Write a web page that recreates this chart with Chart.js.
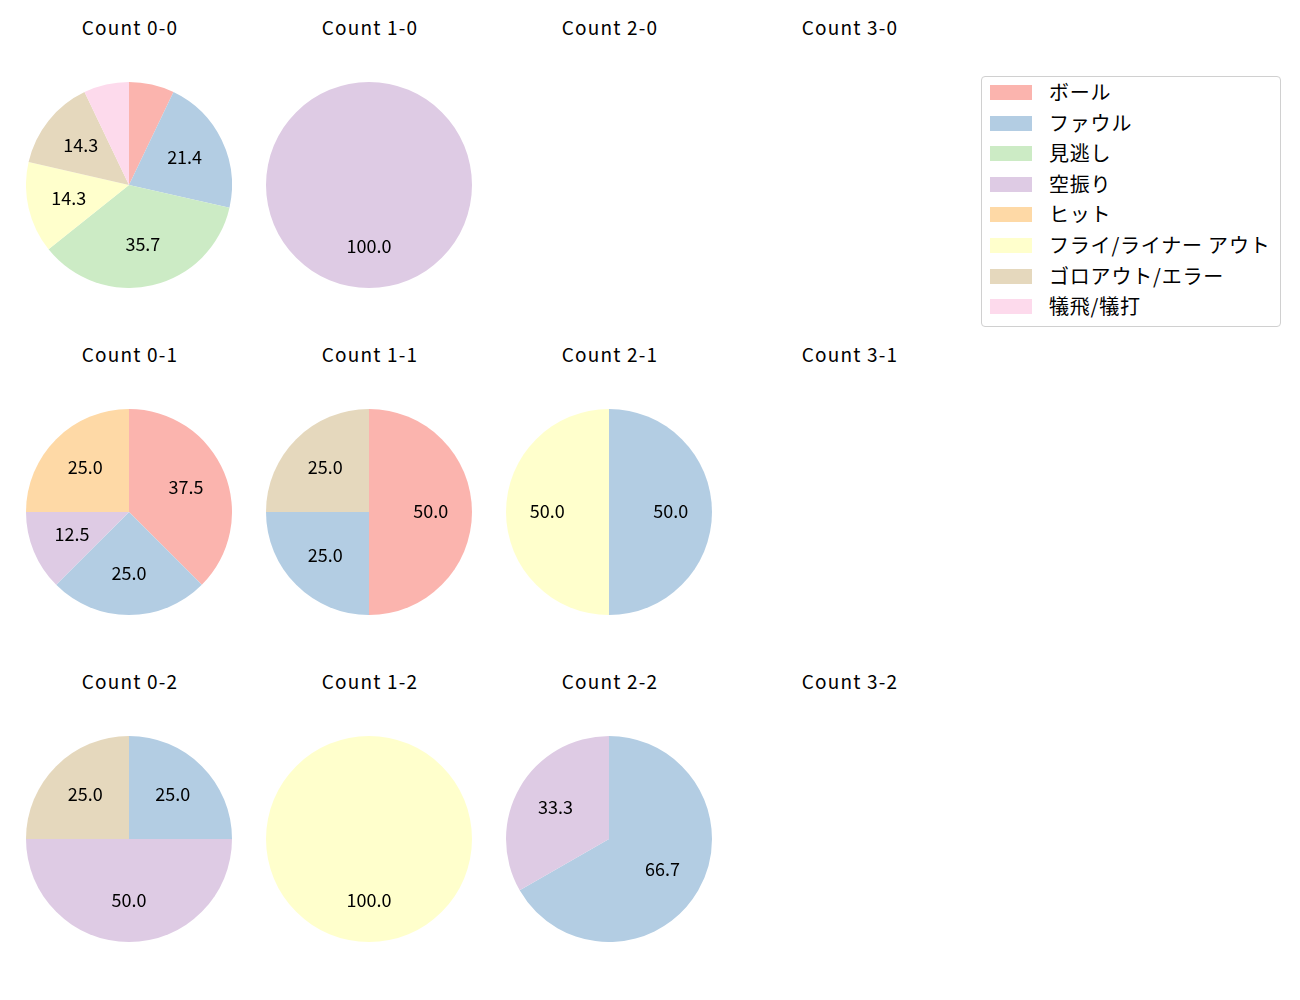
<!DOCTYPE html>
<html>
<head>
<meta charset="utf-8">
<script src="https://cdn.jsdelivr.net/npm/chart.js@4.4.1/dist/chart.umd.min.js"></script>
<style>
  body { margin: 0; background: #fff; font-family: "Noto Sans CJK JP", "Noto Sans", sans-serif; }
  #wrap { position: relative; width: 1300px; height: 1000px; }
  .titulo { position: absolute; width: 240px; text-align: center; font-size: 19px; line-height: 20px;
            letter-spacing: 1.2px; color: #000; }
  .pie { position: absolute; width: 206px; height: 206px; }
  #leyenda { position: absolute; left: 981px; top: 76px; width: 298px; height: 249px;
             border: 1px solid #d0d0d0; border-radius: 4px; }
  .item { position: absolute; left: 8px; height: 20px; font-size: 20px; line-height: 20px; color: #000; }
  .item span.caja { position: absolute; left: 0; top: 2px; width: 42px; height: 15px; }
  .item span.txt { position: absolute; left: 59px; top: -1px; white-space: nowrap; letter-spacing: 0.8px; }
</style>
</head>
<body>
<div id="wrap"></div>
<script>
const categorias = ['ボール', 'ファウル', '見逃し', '空振り', 'ヒット', 'フライ/ライナー アウト', 'ゴロアウト/エラー', '犠飛/犠打'];
const colores = ['#fbb4ae', '#b3cde3', '#ccebc5', '#decbe4', '#fed9a6', '#ffffcc', '#e5d8bd', '#fddaec'];

// porcentajes por cuenta, en el orden de categorias
const count00 = [7.1, 21.4, 35.7, 0, 0, 14.3, 14.3, 7.1];
const count10 = [0, 0, 0, 100, 0, 0, 0, 0];
const count20 = [0, 0, 0, 0, 0, 0, 0, 0];
const count30 = [0, 0, 0, 0, 0, 0, 0, 0];
const count01 = [37.5, 25, 0, 12.5, 25, 0, 0, 0];
const count11 = [50, 25, 0, 0, 0, 0, 25, 0];
const count21 = [0, 50, 0, 0, 0, 50, 0, 0];
const count31 = [0, 0, 0, 0, 0, 0, 0, 0];
const count02 = [0, 25, 0, 50, 0, 0, 25, 0];
const count12 = [0, 0, 0, 0, 0, 100, 0, 0];
const count22 = [0, 66.7, 0, 33.3, 0, 0, 0, 0];
const count32 = [0, 0, 0, 0, 0, 0, 0, 0];

const cuentas = [
    ['Count 0-0', count00], ['Count 1-0', count10], ['Count 2-0', count20], ['Count 3-0', count30],
    ['Count 0-1', count01], ['Count 1-1', count11], ['Count 2-1', count21], ['Count 3-1', count31],
    ['Count 0-2', count02], ['Count 1-2', count12], ['Count 2-2', count22], ['Count 3-2', count32]
];

// etiquetas de porcentaje dentro de cada porcion
const etiquetas = {
    id: 'etiquetas',
    afterDatasetsDraw(chart) {
        const ctx = chart.ctx;
        const meta = chart.getDatasetMeta(0);
        const valores = chart.data.datasets[0].data;
        ctx.save();
        ctx.font = '18px "Noto Sans CJK JP", "Noto Sans", sans-serif';
        ctx.fillStyle = '#000';
        ctx.textAlign = 'center';
        ctx.textBaseline = 'middle';
        meta.data.forEach((arco, i) => {
            if (valores[i] < 10) return;
            const p = arco.getProps(['x', 'y', 'startAngle', 'endAngle', 'outerRadius'], true);
            const medio = (p.startAngle + p.endAngle) / 2;
            const d = p.outerRadius * 0.6;
            ctx.fillText(valores[i].toFixed(1), p.x + Math.cos(medio) * d, p.y + Math.sin(medio) * d - 1);
        });
        ctx.restore();
    }
};

const wrap = document.getElementById('wrap');
const colX = [129, 369, 609, 849];
const filaY = [185, 512, 839];

cuentas.forEach(([titulo, valores], n) => {
    const cx = colX[n % 4];
    const cy = filaY[Math.floor(n / 4)];

    const t = document.createElement('div');
    t.className = 'titulo';
    t.style.left = (cx - 119) + 'px';
    t.style.top = (cy - 168) + 'px';
    t.textContent = titulo;
    wrap.appendChild(t);

    const caja = document.createElement('div');
    caja.className = 'pie';
    caja.style.left = (cx - 103) + 'px';
    caja.style.top = (cy - 103) + 'px';
    const canvas = document.createElement('canvas');
    caja.appendChild(canvas);
    wrap.appendChild(caja);

    new Chart(canvas.getContext('2d'), {
        type: 'pie',
        data: {
            labels: categorias,
            datasets: [{
                data: valores,
                backgroundColor: colores,
                borderWidth: 0
            }]
        },
        options: {
            responsive: true,
            maintainAspectRatio: false,
            animation: false,
            layout: { padding: 0 },
            plugins: {
                legend: { display: false },
                tooltip: { enabled: false }
            }
        },
        plugins: [etiquetas]
    });
});

const leyenda = document.createElement('div');
leyenda.id = 'leyenda';
categorias.forEach((nombre, i) => {
    const item = document.createElement('div');
    item.className = 'item';
    item.style.top = (6 + i * 30.6) + 'px';
    const c = document.createElement('span');
    c.className = 'caja';
    c.style.background = colores[i];
    const s = document.createElement('span');
    s.className = 'txt';
    s.textContent = nombre;
    item.appendChild(c);
    item.appendChild(s);
    leyenda.appendChild(item);
});
wrap.appendChild(leyenda);
</script>
</body>
</html>
